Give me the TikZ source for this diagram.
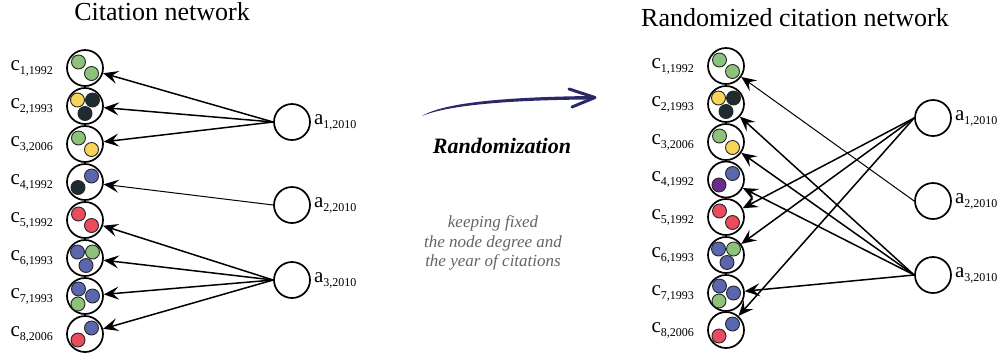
\documentclass[tikz,border=0pt]{standalone}
\usepackage{fontspec}
\setmainfont{Liberation Serif}
\usetikzlibrary{arrows.meta}
\definecolor{cgreen}{RGB}{141,194,122}
\definecolor{cyellow}{RGB}{248,212,90}
\definecolor{cdark}{RGB}{30,43,48}
\definecolor{cblue}{RGB}{90,102,174}
\definecolor{cred}{RGB}{234,76,94}
\definecolor{cpurple}{RGB}{106,43,143}
\definecolor{navy}{RGB}{42,40,105}
\definecolor{textgray}{RGB}{100,100,100}
\newcommand{\clab}[2]{{\fontsize{21}{21}\selectfont #1}\raisebox{-4pt}{\fontsize{12}{12}\selectfont #2}}
\newcommand{\spot}[5]{\node[dot,fill=#5] (#1#2) at ([shift={(#3,#4)}]#1.center) {};}
\begin{document}
\begin{tikzpicture}[x=1pt,y=-1pt,
  cnode/.style={circle,draw,line width=1.7pt,minimum size=36pt,inner sep=0pt,fill=white},
  anode/.style={circle,draw,line width=1.7pt,minimum size=36pt,inner sep=0pt,fill=white},
  dot/.style={circle,draw=black!85,line width=0.9pt,minimum size=14pt,inner sep=0pt},
  arr/.style={-{Stealth[length=15pt,width=13pt,inset=6pt]},line width=1.5pt},
  thinarr/.style={arr,line width=1pt},
  clabel/.style={anchor=east,inner sep=1pt},
  alabel/.style={anchor=west,inner sep=1pt},
  title/.style={anchor=base,font=\fontsize{26}{30}\selectfont}]
\useasboundingbox (0,0) rectangle (1006,360);
\fill[white] (0,0) rectangle (1006,360);

% titles
\node[title] (t1) at (162,20) {Citation network};
\node[title] (t2) at (795,26) {Randomized citation network};

% ---------- left network ----------
\node[cnode] (L1) at (85,68) {};
\node[cnode] (L2) at (85,106) {};
\node[cnode] (L3) at (85,144) {};
\node[cnode] (L4) at (85,182) {};
\node[cnode] (L5) at (85,220) {};
\node[cnode] (L6) at (85,258) {};
\node[cnode] (L7) at (85,296) {};
\node[cnode] (L8) at (85,334) {};
\spot{L1}{a}{-6.5}{-6}{cgreen}\spot{L1}{b}{6.5}{5.5}{cgreen}
\spot{L2}{a}{-7.5}{-6}{cyellow}\spot{L2}{b}{7.5}{-6}{cdark}\spot{L2}{c}{0}{7.5}{cdark}
\spot{L3}{a}{-6.5}{-6}{cgreen}\spot{L3}{b}{6.5}{5.5}{cyellow}
\spot{L4}{a}{-7}{5.5}{cdark}\spot{L4}{b}{6.5}{-6}{cblue}
\spot{L5}{a}{-6.5}{-6}{cred}\spot{L5}{b}{6.5}{5.5}{cred}
\spot{L6}{a}{-7.5}{-6}{cblue}\spot{L6}{b}{7.5}{-6}{cgreen}\spot{L6}{c}{1}{7.5}{cblue}
\spot{L7}{a}{-6.5}{-7}{cblue}\spot{L7}{b}{7.5}{0}{cblue}\spot{L7}{c}{-7}{8}{cgreen}
\spot{L8}{a}{6.5}{-6}{cblue}\spot{L8}{b}{-7}{6}{cred}
\node[clabel] (L1t) at ([xshift=-12pt]L1.west) {\clab{c}{1,1992}};
\node[clabel] (L2t) at ([xshift=-12pt]L2.west) {\clab{c}{2,1993}};
\node[clabel] (L3t) at ([xshift=-12pt]L3.west) {\clab{c}{3,2006}};
\node[clabel] (L4t) at ([xshift=-12pt]L4.west) {\clab{c}{4,1992}};
\node[clabel] (L5t) at ([xshift=-12pt]L5.west) {\clab{c}{5,1992}};
\node[clabel] (L6t) at ([xshift=-12pt]L6.west) {\clab{c}{6,1993}};
\node[clabel] (L7t) at ([xshift=-12pt]L7.west) {\clab{c}{7,1993}};
\node[clabel] (L8t) at ([xshift=-12pt]L8.west) {\clab{c}{8,2006}};

\node[anode] (LA1) at (292,122) {};
\node[anode] (LA2) at (292,205) {};
\node[anode] (LA3) at (292,280) {};
\node[alabel] (LA1t) at ([xshift=2pt]LA1.east) {\clab{a}{1,2010}};
\node[alabel] (LA2t) at ([xshift=2pt]LA2.east) {\clab{a}{2,2010}};
\node[alabel] (LA3t) at ([xshift=2pt]LA3.east) {\clab{a}{3,2010}};

\draw[arr] (LA1.west) -- (L1);
\draw[arr] (LA1.west) -- (L2);
\draw[arr] (LA1.west) -- (L3);
\draw[thinarr] (LA2.west) -- (L4);
\draw[arr] (LA3.west) -- (L5);
\draw[arr] (LA3.west) -- (L6);
\draw[arr] (LA3.west) -- (L7);
\draw[arr] (LA3.west) -- (L8);

% ---------- middle ----------
\fill[navy] (422,116) .. controls (445,102) and (510,97) .. (590,96)
  -- (590,99.5) .. controls (510,100) and (448,105) .. (422,116) -- cycle;
\draw[navy,line width=3pt,line cap=round,line join=round] (569,89) -- (595,97.5) -- (572,107);
\node[anchor=base,font=\fontsize{22}{26}\selectfont\bfseries\itshape] (rnd) at (502,153) {Randomization};
\node[anchor=north,align=center,text=textgray,font=\fontsize{17}{19.5}\selectfont\itshape] (keep) at (493,212)
  {keeping fixed\\the node degree and\\the year of citations};

% ---------- right network ----------
\node[cnode] (R1) at (726,66) {};
\node[cnode] (R2) at (726,104) {};
\node[cnode] (R3) at (726,142) {};
\node[cnode] (R4) at (726,179.5) {};
\node[cnode] (R5) at (726,217) {};
\node[cnode] (R6) at (726,255) {};
\node[cnode] (R7) at (726,293) {};
\node[cnode] (R8) at (726,330) {};
\spot{R1}{a}{-6.5}{-6}{cgreen}\spot{R1}{b}{6.5}{5.5}{cgreen}
\spot{R2}{a}{-7.5}{-6}{cyellow}\spot{R2}{b}{7.5}{-6}{cdark}\spot{R2}{c}{0}{7.5}{cdark}
\spot{R3}{a}{-6.5}{-6}{cgreen}\spot{R3}{b}{6.5}{5.5}{cyellow}
\spot{R4}{a}{-7}{5.5}{cpurple}\spot{R4}{b}{6.5}{-6}{cblue}
\spot{R5}{a}{-6.5}{-6}{cred}\spot{R5}{b}{6.5}{5.5}{cred}
\spot{R6}{a}{-7.5}{-6}{cblue}\spot{R6}{b}{7.5}{-6}{cgreen}\spot{R6}{c}{1}{7.5}{cblue}
\spot{R7}{a}{-6.5}{-7}{cblue}\spot{R7}{b}{7.5}{0}{cblue}\spot{R7}{c}{-7}{8}{cgreen}
\spot{R8}{a}{6.5}{-6}{cblue}\spot{R8}{b}{-7}{6}{cred}
\node[clabel] (R1t) at ([xshift=-12pt]R1.west) {\clab{c}{1,1992}};
\node[clabel] (R2t) at ([xshift=-12pt]R2.west) {\clab{c}{2,1993}};
\node[clabel] (R3t) at ([xshift=-12pt]R3.west) {\clab{c}{3,2006}};
\node[clabel] (R4t) at ([xshift=-12pt]R4.west) {\clab{c}{4,1992}};
\node[clabel] (R5t) at ([xshift=-12pt]R5.west) {\clab{c}{5,1992}};
\node[clabel] (R6t) at ([xshift=-12pt]R6.west) {\clab{c}{6,1993}};
\node[clabel] (R7t) at ([xshift=-12pt]R7.west) {\clab{c}{7,1993}};
\node[clabel] (R8t) at ([xshift=-12pt]R8.west) {\clab{c}{8,2006}};

\node[anode] (RA1) at (933,118) {};
\node[anode] (RA2) at (933,201) {};
\node[anode] (RA3) at (933,275) {};
\node[alabel] (RA1t) at ([xshift=2pt]RA1.east) {\clab{a}{1,2010}};
\node[alabel] (RA2t) at ([xshift=2pt]RA2.east) {\clab{a}{2,2010}};
\node[alabel] (RA3t) at ([xshift=2pt]RA3.east) {\clab{a}{3,2010}};

\draw[thinarr] (RA2.west) -- (R1);
\draw[arr] (RA3.west) -- (R2);
\draw[arr] (RA3.west) -- (R3);
\draw[arr] (RA3.west) -- (R4);
\draw[arr] (RA3.west) -- (R7);
\draw[arr] (RA1.west) -- (R5);
\draw[arr] (RA1.west) -- (R6);
\draw[arr] (RA1.west) -- (R8);
\end{tikzpicture}
\end{document}
